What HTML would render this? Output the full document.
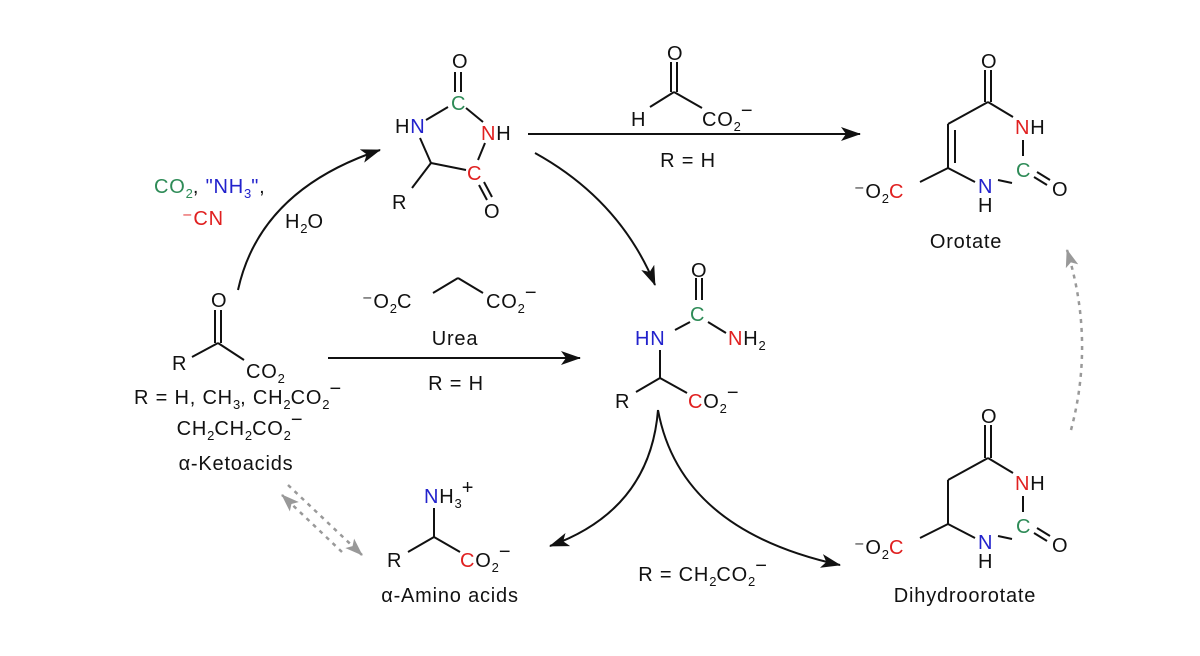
<!DOCTYPE html>
<html><head><meta charset="utf-8"><style>
html,body{margin:0;padding:0;background:#fff;}
svg{display:block;}
text{font-family:"Liberation Sans",sans-serif;font-size:20px;letter-spacing:0.8px;fill:#111;}
.g{fill:#2e8b57}.b{fill:#2222cc}.r{fill:#e02020}
.s{font-size:13px;letter-spacing:0}
.m{text-anchor:middle}
</style></head><body>
<svg width="1200" height="656" viewBox="0 0 1200 656" xmlns="http://www.w3.org/2000/svg">
<defs>
<marker id="ah" markerWidth="20" markerHeight="14" refX="19" refY="7" orient="auto" markerUnits="userSpaceOnUse"><path d="M0,0 L20,7 L0,14 L5,7z" fill="#111"/></marker>
<marker id="ag" markerWidth="18" markerHeight="13" refX="17" refY="6.5" orient="auto" markerUnits="userSpaceOnUse"><path d="M0,0 L18,6.5 L0,13 L4,6.5z" fill="#999"/></marker>
</defs>
<g stroke="#111" stroke-width="2" fill="none">
<!-- hydantoin -->
<line x1="455" y1="72" x2="455" y2="92"/><line x1="461" y1="72" x2="461" y2="92"/>
<line x1="426" y1="120" x2="448" y2="107"/><line x1="466" y1="108" x2="483" y2="122"/>
<line x1="420" y1="138" x2="431" y2="163"/><line x1="431" y1="163" x2="466" y2="170"/>
<line x1="478" y1="160" x2="485" y2="143"/><line x1="431" y1="163" x2="412" y2="188"/>
<line x1="479" y1="185" x2="487" y2="200"/><line x1="484" y1="182" x2="492" y2="197"/>
<!-- glyoxylate -->
<line x1="671" y1="62" x2="671" y2="92"/><line x1="677" y1="62" x2="677" y2="92"/>
<line x1="674" y1="92" x2="650" y2="107"/><line x1="674" y1="92" x2="702" y2="108"/>
<!-- orotate -->
<line x1="985" y1="70" x2="985" y2="102"/><line x1="991" y1="70" x2="991" y2="102"/>
<line x1="988" y1="102" x2="1013" y2="117"/><line x1="988" y1="102" x2="948" y2="124"/>
<line x1="1023" y1="140" x2="1023" y2="156"/><line x1="1012" y1="183" x2="998" y2="180"/>
<line x1="1037" y1="172" x2="1050" y2="180"/><line x1="1034" y1="177" x2="1047" y2="185"/>
<line x1="948" y1="124" x2="948" y2="168"/><line x1="955" y1="130" x2="955" y2="163"/>
<line x1="948" y1="168" x2="975" y2="182"/><line x1="948" y1="168" x2="920" y2="182"/>
<!-- malonate -->
<line x1="433" y1="293" x2="458" y2="278"/><line x1="458" y1="278" x2="483" y2="293"/>
<!-- carbamoyl -->
<line x1="696" y1="278" x2="696" y2="300"/><line x1="702" y1="278" x2="702" y2="300"/>
<line x1="675" y1="330" x2="690" y2="322"/><line x1="708" y1="322" x2="726" y2="333"/>
<line x1="660" y1="350" x2="660" y2="378"/><line x1="660" y1="378" x2="636" y2="392"/><line x1="660" y1="378" x2="687" y2="393"/>
<!-- ketoacid -->
<line x1="215" y1="310" x2="215" y2="343"/><line x1="221" y1="310" x2="221" y2="343"/>
<line x1="218" y1="343" x2="192" y2="357"/><line x1="218" y1="343" x2="244" y2="360"/>
<!-- amino acid -->
<line x1="434" y1="508" x2="434" y2="537"/><line x1="434" y1="537" x2="408" y2="552"/><line x1="434" y1="537" x2="460" y2="552"/>
<!-- dihydroorotate -->
<line x1="985" y1="425" x2="985" y2="458"/><line x1="991" y1="425" x2="991" y2="458"/>
<line x1="988" y1="458" x2="1013" y2="473"/><line x1="988" y1="458" x2="948" y2="480"/>
<line x1="1023" y1="496" x2="1023" y2="512"/><line x1="1012" y1="539" x2="998" y2="536"/>
<line x1="1037" y1="528" x2="1050" y2="536"/><line x1="1034" y1="533" x2="1047" y2="541"/>
<line x1="948" y1="480" x2="948" y2="524"/>
<line x1="948" y1="524" x2="975" y2="538"/><line x1="948" y1="524" x2="920" y2="538"/>
<!-- arrows -->
<path d="M238,290 Q260,190 380,150" marker-end="url(#ah)"/>
<line x1="528" y1="134" x2="860" y2="134" marker-end="url(#ah)"/>
<path d="M535,153 Q620,200 655,285" marker-end="url(#ah)"/>
<line x1="328" y1="358" x2="580" y2="358" marker-end="url(#ah)"/>
<path d="M658,410 Q650,510 550,546" marker-end="url(#ah)"/>
<path d="M658,410 Q680,530 840,565" marker-end="url(#ah)"/>
</g>
<g stroke="#999" stroke-width="2.5" fill="none" stroke-dasharray="4,5">
<path d="M342,552 L282,495" marker-end="url(#ag)"/>
<path d="M288,485 L362,555" marker-end="url(#ag)"/>
<path d="M1071,430 Q1095,340 1067,250" marker-end="url(#ag)"/>
</g>
<!-- hydantoin text -->
<text x="452" y="68">O</text>
<text x="451" y="110" class="g">C</text>
<text x="395" y="133">H<tspan class="b">N</tspan></text>
<text x="481" y="140"><tspan class="r">N</tspan>H</text>
<text x="467" y="180" class="r">C</text>
<text x="484" y="218">O</text>
<text x="392" y="209">R</text>
<!-- glyoxylate -->
<text x="667" y="60">O</text>
<text x="631" y="126">H</text>
<text x="702" y="126">CO<tspan class="s" dy="5">2</tspan><tspan dy="-14">−</tspan></text>
<text x="688" y="167" class="m">R = H</text>
<!-- orotate -->
<text x="981" y="68">O</text>
<text x="1015" y="134"><tspan class="r">N</tspan>H</text>
<text x="1016" y="177" class="g">C</text>
<text x="1052" y="196">O</text>
<text x="978" y="193" class="b">N</text>
<text x="978" y="212">H</text>
<text x="854" y="198">⁻O<tspan class="s" dy="5">2</tspan><tspan class="r" dy="-5">C</tspan></text>
<text x="966" y="248" class="m">Orotate</text>
<!-- left reagents -->
<text x="154" y="193" class="g">CO<tspan class="s" dy="5">2</tspan><tspan dy="-5" style="fill:#111">,</tspan> <tspan class="b">"NH<tspan class="s" dy="5">3</tspan><tspan dy="-5">"</tspan></tspan><tspan style="fill:#111">,</tspan></text>
<text x="182" y="225" class="r">⁻CN</text>
<text x="285" y="228">H<tspan class="s" dy="5">2</tspan><tspan dy="-5">O</tspan></text>
<!-- ketoacid -->
<text x="211" y="307">O</text>
<text x="172" y="370">R</text>
<text x="246" y="378">CO<tspan class="s" dy="5">2</tspan></text>
<text x="238" y="404" class="m">R = H, CH<tspan class="s" dy="5">3</tspan><tspan dy="-5">, CH</tspan><tspan class="s" dy="5">2</tspan><tspan dy="-5">CO</tspan><tspan class="s" dy="5">2</tspan><tspan dy="-14">−</tspan></text>
<text x="240" y="435" class="m">CH<tspan class="s" dy="5">2</tspan><tspan dy="-5">CH</tspan><tspan class="s" dy="5">2</tspan><tspan dy="-5">CO</tspan><tspan class="s" dy="5">2</tspan><tspan dy="-14">−</tspan></text>
<text x="236" y="470" class="m">α-Ketoacids</text>
<!-- malonate -->
<text x="362" y="308">⁻O<tspan class="s" dy="5">2</tspan><tspan dy="-5">C</tspan></text>
<text x="486" y="308">CO<tspan class="s" dy="5">2</tspan><tspan dy="-14">−</tspan></text>
<text x="455" y="345" class="m">Urea</text>
<text x="456" y="390" class="m">R = H</text>
<!-- carbamoyl -->
<text x="691" y="277">O</text>
<text x="690" y="321" class="g">C</text>
<text x="635" y="345" class="b">HN</text>
<text x="728" y="345"><tspan class="r">N</tspan>H<tspan class="s" dy="5">2</tspan></text>
<text x="615" y="408">R</text>
<text x="688" y="408"><tspan class="r">C</tspan>O<tspan class="s" dy="5">2</tspan><tspan dy="-14">−</tspan></text>
<!-- amino acid -->
<text x="424" y="503"><tspan class="b">N</tspan>H<tspan class="s" dy="5">3</tspan><tspan dy="-14">+</tspan></text>
<text x="387" y="567">R</text>
<text x="460" y="567"><tspan class="r">C</tspan>O<tspan class="s" dy="5">2</tspan><tspan dy="-14">−</tspan></text>
<text x="450" y="602" class="m">α-Amino acids</text>
<text x="703" y="581" class="m">R = CH<tspan class="s" dy="5">2</tspan><tspan dy="-5">CO</tspan><tspan class="s" dy="5">2</tspan><tspan dy="-14">−</tspan></text>
<!-- dihydroorotate -->
<text x="981" y="423">O</text>
<text x="1015" y="490"><tspan class="r">N</tspan>H</text>
<text x="1016" y="533" class="g">C</text>
<text x="1052" y="552">O</text>
<text x="978" y="549" class="b">N</text>
<text x="978" y="568">H</text>
<text x="854" y="554">⁻O<tspan class="s" dy="5">2</tspan><tspan class="r" dy="-5">C</tspan></text>
<text x="965" y="602" class="m">Dihydroorotate</text>
</svg>
</body></html>
